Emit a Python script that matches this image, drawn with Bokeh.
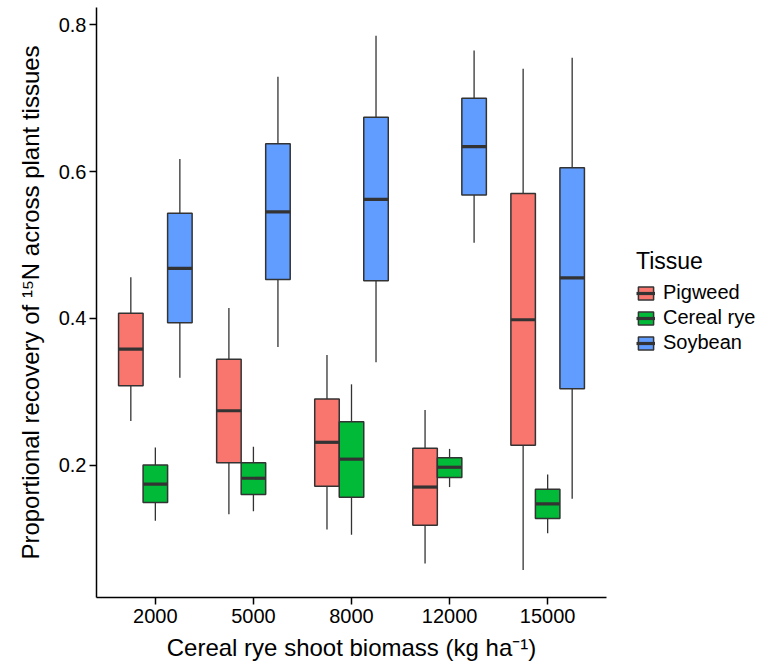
from bokeh.plotting import figure
from bokeh.layouts import row
from bokeh.models import ColumnDataSource, Range1d, FixedTicker, Legend, LegendItem
from bokeh.transform import dodge
from bokeh.embed import file_html
from bokeh.resources import INLINE

biomass = ["2000", "5000", "8000", "12000", "15000"]
tissues = ["Pigweed", "Cereal rye", "Soybean"]
colors = ["#F8766D", "#00BA38", "#619CFF"]
y_ticks = [0.2, 0.4, 0.6, 0.8]

pig_ymin = [0.260, 0.133, 0.112, 0.066, 0.057]
pig_lower = [0.308, 0.203, 0.171, 0.118, 0.227]
pig_mid = [0.358, 0.274, 0.231, 0.170, 0.398]
pig_upper = [0.407, 0.344, 0.290, 0.223, 0.570]
pig_ymax = [0.456, 0.414, 0.350, 0.275, 0.740]

rye_ymin = [0.124, 0.137, 0.105, 0.170, 0.107]
rye_lower = [0.149, 0.160, 0.156, 0.183, 0.127]
rye_mid = [0.174, 0.182, 0.208, 0.197, 0.147]
rye_upper = [0.200, 0.203, 0.259, 0.210, 0.167]
rye_ymax = [0.224, 0.225, 0.310, 0.222, 0.187]

soy_ymin = [0.319, 0.361, 0.340, 0.503, 0.154]
soy_lower = [0.394, 0.453, 0.451, 0.568, 0.304]
soy_mid = [0.468, 0.545, 0.562, 0.634, 0.455]
soy_upper = [0.543, 0.638, 0.674, 0.700, 0.605]
soy_ymax = [0.617, 0.729, 0.785, 0.765, 0.755]

series = [
    (pig_ymin, pig_lower, pig_mid, pig_upper, pig_ymax),
    (rye_ymin, rye_lower, rye_mid, rye_upper, rye_ymax),
    (soy_ymin, soy_lower, soy_mid, soy_upper, soy_ymax),
]

FONT = "Liberation Sans"
EDGE = "#333333"
NAN = float("nan")

p = figure(width=620, height=666,
           x_range=Range1d(0.4, 5.6), y_range=Range1d(0.0195, 0.8235),
           output_backend="svg", toolbar_location=None,
           min_border_left=96, min_border_right=14,
           min_border_top=7, min_border_bottom=69)
p.xgrid.visible = False
p.ygrid.visible = False
p.outline_line_color = None
p.background_fill_color = "white"

xpos = list(range(1, len(biomass) + 1))
p.xaxis.ticker = FixedTicker(ticks=xpos)
p.xaxis.major_label_overrides = {x: b for x, b in zip(xpos, biomass)}
p.yaxis.ticker = FixedTicker(ticks=y_ticks)

for ax in (p.xaxis[0], p.yaxis[0]):
    ax.axis_line_color = "black"
    ax.axis_line_width = 1.5
    ax.major_tick_line_color = "black"
    ax.major_tick_line_width = 1.5
    ax.major_tick_out = 7
    ax.major_tick_in = 0
    ax.minor_tick_line_color = None
    ax.major_label_text_font = FONT
    ax.major_label_text_font_size = "20px"
    ax.major_label_text_color = "black"
    ax.axis_label_text_font = FONT
    ax.axis_label_text_font_size = "24px"
    ax.axis_label_text_font_style = "normal"
    ax.axis_label_text_color = "black"

p.xaxis.axis_label = "Cereal rye shoot biomass (kg ha\u207b\u00b9)"
p.yaxis.axis_label = "Proportional recovery of \u00b9\u2075N across plant tissues"
p.xaxis.major_label_standoff = 4
p.xaxis.axis_label_standoff = 8
p.yaxis.major_label_standoff = 3
p.yaxis.axis_label_standoff = 12

# legend panel to the right of the plot
lg = figure(width=152, height=666, x_range=Range1d(0, 1), y_range=Range1d(0, 1),
            output_backend="svg", toolbar_location=None, min_border=0)
lg.axis.visible = False
lg.xgrid.visible = False
lg.ygrid.visible = False
lg.outline_line_color = None

offsets = [-0.25, 0.0, 0.25]
items = []
for name, color, off, (ymin, lower, mid, upper, ymax) in zip(tissues, colors, offsets, series):
    src = ColumnDataSource(dict(x=xpos, ymin=ymin, lower=lower, mid=mid, upper=upper, ymax=ymax))
    p.segment(x0=dodge("x", off), y0="ymin",
              x1=dodge("x", off), y1="ymax",
              source=src, line_color=EDGE, line_width=1.3)
    p.vbar(x=dodge("x", off), width=0.25, bottom="lower", top="upper",
           source=src, fill_color=color, line_color=EDGE, line_width=1.5)
    p.segment(x0=dodge("x", off - 0.125), y0="mid",
              x1=dodge("x", off + 0.125), y1="mid",
              source=src, line_color=EDGE, line_width=3.2)
    # key glyphs (a single non-drawn row) for the legend panel
    key = ColumnDataSource(dict(x=[NAN], lower=[NAN], upper=[NAN], mid=[NAN]))
    kb = lg.vbar(x="x", width=0.25, bottom="lower", top="upper", source=key,
                 fill_color=color, line_color=EDGE, line_width=1.5)
    km = lg.segment(x0="x", y0="mid", x1="x", y1="mid", source=key,
                    line_color=EDGE, line_width=3.2)
    items.append(LegendItem(label=name, renderers=[kb, km]))

legend = Legend(items=items, title="Tissue", location=(16, 243),
                border_line_color=None, background_fill_alpha=0,
                label_text_font=FONT, label_text_font_size="20px",
                label_text_color="black",
                title_text_font=FONT, title_text_font_size="23px",
                title_text_font_style="normal", title_text_color="black",
                glyph_width=19, glyph_height=16, label_standoff=8,
                spacing=2, padding=0, margin=0, title_standoff=6)
lg.add_layout(legend)

layout = row(p, lg)
open("out.html", "w").write(file_html(layout, INLINE))
